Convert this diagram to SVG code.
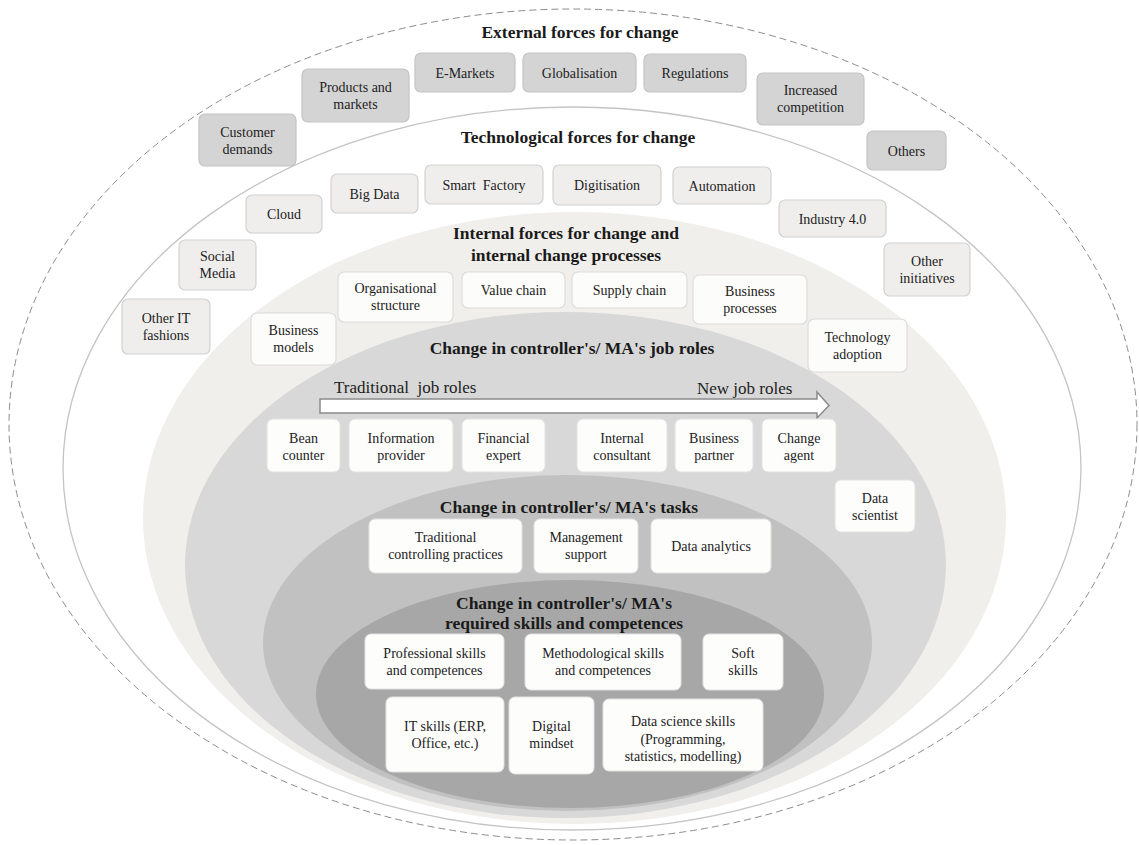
<svg xmlns="http://www.w3.org/2000/svg" width="1139" height="845" viewBox="0 0 1139 845">
<style>
text{font-family:"Liberation Serif","Times New Roman",serif;fill:#222;text-anchor:middle}
.t{font-size:17.5px;font-weight:bold;fill:#1a1a1a}
.b{font-size:14px}
.lab{font-size:17px;text-anchor:start}
.ext{fill:#d4d4d4;stroke:#c4c4c4;stroke-width:1.2}
.tech{fill:#efeeec;stroke:#d2d2d2;stroke-width:1.2}
.int{fill:#fcfcfa;stroke:#dcdcdc;stroke-width:1.2}
.wb{fill:#fdfdfc;stroke:#e2e2e2;stroke-width:1}
</style>
<rect width="1139" height="845" fill="#ffffff"/>
<g id="layers">
<ellipse cx="573" cy="424.5" rx="564" ry="415.5" fill="#ffffff" stroke="#8c8c8c" stroke-width="1" stroke-dasharray="7,4"/>
<ellipse cx="572" cy="468.5" rx="509" ry="361.5" fill="#ffffff" stroke="#c4c4c4" stroke-width="1.3"/>
<ellipse cx="574.5" cy="518" rx="431.5" ry="306" fill="#f1efec"/>
<ellipse cx="565.5" cy="565" rx="380.5" ry="253" fill="#d8d8d8"/>
<ellipse cx="567.5" cy="643" rx="304.5" ry="168" fill="#c1c1c1"/>
<ellipse cx="570" cy="694" rx="254" ry="114" fill="#a7a7a7"/>
</g>
<g id="titles">
<text class="t" x="580" y="38">External forces for change</text>
<text class="t" x="578" y="143">Technological forces for change</text>
<text class="t" x="566" y="239">Internal forces for change and</text>
<text class="t" x="566" y="261">internal change processes</text>
<text class="t" x="572" y="354">Change in controller's/ MA's job roles</text>
<text class="t" x="569" y="513">Change in controller's/ MA's tasks</text>
<text class="t" x="564" y="609">Change in controller's/ MA's</text>
<text class="t" x="564" y="629">required skills and competences</text>
<text class="lab" x="334" y="393" xml:space="preserve">Traditional  job roles</text>
<text class="lab" x="697" y="394">New job roles</text>
</g>
<g id="progression-arrow">
<polygon points="320,399 817,399 817,392 829,405.5 817,418 817,413 320,413" fill="#ffffff" stroke="#8a8a8a" stroke-width="1.5" stroke-linejoin="miter"/>
</g>
<g id="connectors"></g>
<g id="external-forces">
<g id="n-customer"><rect class="ext" x="199" y="114" width="97" height="52" rx="6"/><text class="b" x="247.5" y="137">Customer</text><text class="b" x="247.5" y="154">demands</text></g>
<g id="n-products"><rect class="ext" x="302" y="69" width="107" height="53" rx="6"/><text class="b" x="355.5" y="92">Products and</text><text class="b" x="355.5" y="109">markets</text></g>
<g id="n-emarkets"><rect class="ext" x="415" y="53" width="100" height="39" rx="6"/><text class="b" x="465" y="77.5">E-Markets</text></g>
<g id="n-globalisation"><rect class="ext" x="523" y="53" width="113" height="39" rx="6"/><text class="b" x="579.5" y="77.5">Globalisation</text></g>
<g id="n-regulations"><rect class="ext" x="644" y="54" width="102" height="38" rx="6"/><text class="b" x="695" y="78">Regulations</text></g>
<g id="n-competition"><rect class="ext" x="757" y="73" width="107" height="52" rx="6"/><text class="b" x="810.5" y="95">Increased</text><text class="b" x="810.5" y="112">competition</text></g>
<g id="n-others"><rect class="ext" x="867" y="131" width="79" height="39" rx="6"/><text class="b" x="906.5" y="155.5">Others</text></g>
</g>
<g id="technological-forces">
<g id="n-cloud"><rect class="tech" x="246" y="195" width="76" height="38" rx="6"/><text class="b" x="284" y="219">Cloud</text></g>
<g id="n-bigdata"><rect class="tech" x="331" y="174" width="87" height="39" rx="6"/><text class="b" x="374.5" y="198.5">Big Data</text></g>
<g id="n-smartfactory"><rect class="tech" x="425" y="165" width="118" height="39" rx="6"/><text class="b" x="484" y="189.5" xml:space="preserve">Smart  Factory</text></g>
<g id="n-digitisation"><rect class="tech" x="553" y="165" width="108" height="40" rx="6"/><text class="b" x="607" y="190">Digitisation</text></g>
<g id="n-automation"><rect class="tech" x="673" y="167" width="98" height="37" rx="6"/><text class="b" x="722" y="190.5">Automation</text></g>
<g id="n-industry40"><rect class="tech" x="779" y="200" width="107" height="37" rx="6"/><text class="b" x="832.5" y="223.5">Industry 4.0</text></g>
<g id="n-socialmedia"><rect class="tech" x="179" y="240" width="77" height="50" rx="6"/><text class="b" x="217.5" y="261">Social</text><text class="b" x="217.5" y="278">Media</text></g>
<g id="n-otherit"><rect class="tech" x="122" y="299" width="88" height="55" rx="6"/><text class="b" x="166" y="323">Other IT</text><text class="b" x="166" y="340">fashions</text></g>
<g id="n-otherinitiatives"><rect class="tech" x="884" y="243" width="86" height="53" rx="6"/><text class="b" x="927" y="266">Other</text><text class="b" x="927" y="283">initiatives</text></g>
</g>
<g id="internal-forces">
<g id="n-orgstructure"><rect class="int" x="338" y="272" width="115" height="50" rx="6"/><text class="b" x="395.5" y="293">Organisational</text><text class="b" x="395.5" y="310">structure</text></g>
<g id="n-valuechain"><rect class="int" x="462" y="272" width="103" height="36" rx="6"/><text class="b" x="513.5" y="295">Value chain</text></g>
<g id="n-supplychain"><rect class="int" x="572" y="272" width="115" height="36" rx="6"/><text class="b" x="629.5" y="295">Supply chain</text></g>
<g id="n-bizprocesses"><rect class="int" x="693" y="275" width="114" height="49" rx="6"/><text class="b" x="750" y="296">Business</text><text class="b" x="750" y="313">processes</text></g>
<g id="n-techadoption"><rect class="int" x="808" y="319" width="99" height="53" rx="6"/><text class="b" x="857.5" y="342">Technology</text><text class="b" x="857.5" y="359">adoption</text></g>
<g id="n-bizmodels"><rect class="int" x="251" y="313" width="85" height="52" rx="6"/><text class="b" x="293.5" y="335">Business</text><text class="b" x="293.5" y="352">models</text></g>
</g>
<g id="job-roles">
<g id="n-beancounter"><rect class="wb" x="267" y="419" width="73" height="53" rx="6"/><text class="b" x="303.5" y="443">Bean</text><text class="b" x="303.5" y="460">counter</text></g>
<g id="n-infoprovider"><rect class="wb" x="349" y="419" width="104" height="53" rx="6"/><text class="b" x="401" y="443">Information</text><text class="b" x="401" y="460">provider</text></g>
<g id="n-finexpert"><rect class="wb" x="462" y="419" width="83" height="53" rx="6"/><text class="b" x="503.5" y="443">Financial</text><text class="b" x="503.5" y="460">expert</text></g>
<g id="n-intconsultant"><rect class="wb" x="577" y="419" width="90" height="53" rx="6"/><text class="b" x="622" y="443">Internal</text><text class="b" x="622" y="460">consultant</text></g>
<g id="n-bizpartner"><rect class="wb" x="675" y="419" width="78" height="53" rx="6"/><text class="b" x="714" y="443">Business</text><text class="b" x="714" y="460">partner</text></g>
<g id="n-changeagent"><rect class="wb" x="762" y="419" width="74" height="53" rx="6"/><text class="b" x="799" y="443">Change</text><text class="b" x="799" y="460">agent</text></g>
<g id="n-datascientist"><rect class="wb" x="835" y="480" width="80" height="52" rx="6"/><text class="b" x="875" y="503">Data</text><text class="b" x="875" y="520">scientist</text></g>
</g>
<g id="tasks">
<g id="n-tradpractices"><rect class="wb" x="369" y="519" width="153" height="54" rx="6"/><text class="b" x="445.5" y="542">Traditional</text><text class="b" x="445.5" y="559">controlling practices</text></g>
<g id="n-mgmtsupport"><rect class="wb" x="534" y="519" width="104" height="54" rx="6"/><text class="b" x="586" y="542">Management</text><text class="b" x="586" y="559">support</text></g>
<g id="n-dataanalytics"><rect class="wb" x="651" y="519" width="120" height="54" rx="6"/><text class="b" x="711" y="551">Data analytics</text></g>
</g>
<g id="skills">
<g id="n-professional"><rect class="wb" x="365" y="634" width="139" height="55" rx="6"/><text class="b" x="434.5" y="658">Professional skills</text><text class="b" x="434.5" y="675">and competences</text></g>
<g id="n-methodological"><rect class="wb" x="525" y="634" width="156" height="56" rx="6"/><text class="b" x="603" y="658">Methodological skills</text><text class="b" x="603" y="675">and competences</text></g>
<g id="n-soft"><rect class="wb" x="703" y="634" width="80" height="56" rx="6"/><text class="b" x="743" y="658">Soft</text><text class="b" x="743" y="675">skills</text></g>
<g id="n-itskills"><rect class="wb" x="386" y="697" width="118" height="75" rx="6"/><text class="b" x="445" y="731">IT skills (ERP,</text><text class="b" x="445" y="748">Office, etc.)</text></g>
<g id="n-digital"><rect class="wb" x="509" y="697" width="85" height="77" rx="6"/><text class="b" x="551.5" y="731">Digital</text><text class="b" x="551.5" y="748">mindset</text></g>
<g id="n-datascience"><rect class="wb" x="603" y="699" width="160" height="72" rx="6"/><text class="b" x="683" y="726">Data science skills</text><text class="b" x="683" y="743.5">(Programming,</text><text class="b" x="683" y="761">statistics, modelling)</text></g>
</g>
</svg>
